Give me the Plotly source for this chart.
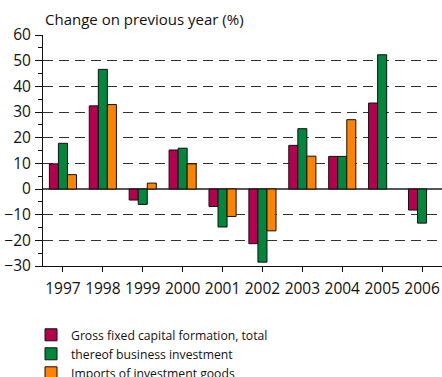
import plotly.graph_objects as go

years = ["1997", "1998", "1999", "2000", "2001", "2002", "2003", "2004", "2005", "2006"]
gross_fixed = [9.8, 32.4, -4.3, 15.2, -6.8, -21.3, 17.0, 12.7, 33.5, -8.2]
business_inv = [17.8, 46.6, -6.0, 15.9, -14.8, -28.5, 23.5, 12.7, 52.3, -13.3]
imports_inv = [5.6, 32.9, 2.3, 9.8, -10.7, -16.3, 12.8, 27.0, None, None]

series = [
    ("Gross fixed capital formation, total", gross_fixed, "#B5004F"),
    ("thereof business investment", business_inv, "#00873C"),
    ("Imports of investment goods", imports_inv, "#FF8200"),
]

fig = go.Figure()
for name, vals, color in series:
    fig.add_trace(go.Bar(
        x=years, y=vals, name=name,
        marker=dict(color=color, line=dict(color="#111111", width=1)),
    ))

font_family = "Open Sans, DejaVu Sans, sans-serif"

fig.update_layout(
    width=442, height=377,
    margin=dict(l=43, r=0, t=35, b=111, autoexpand=False),
    paper_bgcolor="white", plot_bgcolor="white",
    barmode="group", bargap=0.32, bargroupgap=0,
    font=dict(family=font_family, color="#111111", size=14),
    showlegend=True,
    legend=dict(
        x=-0.03, y=-0.235, xanchor="left", yanchor="top",
        orientation="v", font=dict(size=12.2, color="#111111"),
        bgcolor="rgba(0,0,0,0)", tracegroupgap=0,
    ),
    annotations=[dict(
        text="Change on previous year (%)", xref="paper", yref="paper",
        x=0.0, y=1.0, xanchor="left", yanchor="bottom", yshift=4,
        showarrow=False, font=dict(size=15, color="#111111"),
    )],
)

fig.update_xaxes(
    type="category", showline=True, linecolor="#111111", linewidth=1,
    ticks="outside", ticklen=5, tickcolor="#111111", ticklabelstandoff=3,
    tickfont=dict(size=15.5, color="#111111"), showgrid=False, zeroline=False,
)

fig.update_yaxes(
    range=[-30, 60], dtick=10, tick0=0,
    showline=True, linecolor="#111111", linewidth=1,
    ticks="outside", ticklen=7, tickcolor="#111111", ticklabelstandoff=1,
    tickfont=dict(size=15.5, color="#111111"),
    showgrid=True, gridcolor="#333333", gridwidth=1, griddash="10px,6px",
    zeroline=True, zerolinecolor="#555555", zerolinewidth=1.5,
    minor=dict(dtick=5, ticks="outside", ticklen=4, tickcolor="#111111", showgrid=False),
)

fig.write_html("out.html")
